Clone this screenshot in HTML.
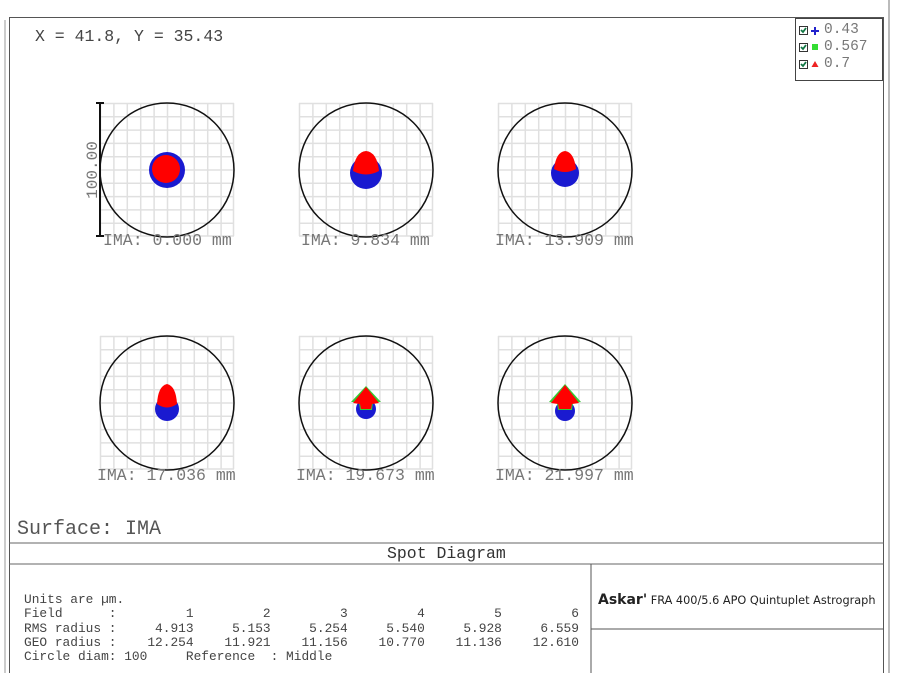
<!DOCTYPE html>
<html><head><style>
body{margin:0;background:#fff;width:900px;height:673px;overflow:hidden;position:relative;font-family:"Liberation Mono",monospace;color:#333}
.t{position:absolute;white-space:pre;}
</style></head><body>
<svg width="900" height="673" style="position:absolute;left:0;top:0">
<line x1="5" y1="20" x2="5" y2="673" stroke="#ccc" stroke-width="2"/>
<rect x="9.5" y="17.5" width="874" height="660" fill="none" stroke="#555"/>
<line x1="889" y1="0" x2="889" y2="673" stroke="#bbb" stroke-width="2"/>
<line x1="9" y1="543" x2="884" y2="543" stroke="#666"/>
<line x1="9" y1="564" x2="884" y2="564" stroke="#666"/>
<line x1="591" y1="564" x2="591" y2="673" stroke="#555"/>
<line x1="591" y1="629" x2="884" y2="629" stroke="#555"/>
<rect x="795.5" y="18.5" width="87" height="62" fill="#fff" stroke="#444"/>
<g id="c1">
<path d="M100 103.5H234M100 116.8H234M100 130.1H234M100 143.4H234M100 156.7H234M100 170H234M100 183.3H234M100 196.6H234M100 209.9H234M100 223.2H234M100 236H234M100.5 103V236M113.9 103V236M127.3 103V236M140.7 103V236M154.1 103V236M167.5 103V236M180.9 103V236M194.3 103V236M207.7 103V236M221.1 103V236M233.5 103V236" stroke="#e0e0e0" stroke-width="1.5" fill="none"/>
<circle cx="167" cy="170" r="67" fill="none" stroke="#111" stroke-width="1.5"/>
</g>
<use href="#c1" x="199" y="0"/><use href="#c1" x="398" y="0"/>
<use href="#c1" x="0" y="233"/><use href="#c1" x="199" y="233"/><use href="#c1" x="398" y="233"/>
<line x1="100" y1="103" x2="100" y2="236" stroke="#111" stroke-width="2"/>
<line x1="96" y1="103" x2="104" y2="103" stroke="#111" stroke-width="2"/>
<line x1="96" y1="236" x2="104" y2="236" stroke="#111" stroke-width="2"/>
<text x="97" y="170" transform="rotate(-90 97 170)" text-anchor="middle" font-family="Liberation Mono" font-size="16" fill="#777">100.00</text>
<circle cx="167" cy="170" r="18" fill="#1a1ad0"/><circle cx="166" cy="169" r="14" fill="#f00"/>
<circle cx="366" cy="173" r="16" fill="#1a1ad0"/><path d="M353 171 Q355 152 366 151 Q377 152 379 171 Q366 178 353 171Z" fill="#f00"/>
<circle cx="565" cy="173" r="14" fill="#1a1ad0"/><path d="M554 169 Q556 152 565 151 Q574 152 576 169 Q565 175 554 169Z" fill="#f00"/>
<circle cx="167" cy="409" r="12" fill="#1a1ad0"/><path d="M157 404 Q158 386 167 384 Q176 386 177 404 Q167 411 157 404Z" fill="#f00"/>
<circle cx="366" cy="409" r="10" fill="#1a1ad0"/><path d="M351 402 L366 386 L381 402 L373 402 L372 410 L360 410 L359 402Z" fill="#3c3"/><path d="M353 403 L366 387 L379 403 L372 404 L371 409 L361 409 L360 404Z" fill="#f00"/>
<circle cx="565" cy="411" r="10" fill="#1a1ad0"/><path d="M549 402 L565 384 L581 402 L573 403 L572 410 L558 410 L557 403Z" fill="#3c3"/><path d="M551 403 L565 385 L579 403 L572 404 L571 409 L559 409 L558 404Z" fill="#f00"/>
<g stroke="#333"><rect x="799.5" y="26.5" width="8" height="8" fill="#fff"/><rect x="799.5" y="43.5" width="8" height="8" fill="#fff"/><rect x="799.5" y="60.5" width="8" height="8" fill="#fff"/></g>
<path d="M801 30l2 2 3-4M801 47l2 2 3-4M801 64l2 2 3-4" stroke="#174" stroke-width="1.8" fill="none"/>
<path d="M815 27v8M811 31h8" stroke="#22c" stroke-width="2"/>
<rect x="812" y="44" width="6" height="6" fill="#3d3"/>
<path d="M815 61l3.5 6h-7z" fill="#e22"/>
</svg>
<div class="t" style="left:35px;top:27px;font-size:16.5px;color:#444">X = 41.8, Y = 35.43</div>
<div class="t" style="left:824px;top:22px;font-size:14.5px;color:#777;line-height:17px">0.43
0.567
0.7</div>
<div class="t" style="left:103px;top:231px;font-size:16.5px;color:#777">IMA: 0.000 mm</div>
<div class="t" style="left:301px;top:231px;font-size:16.5px;color:#777">IMA: 9.834 mm</div>
<div class="t" style="left:495px;top:231px;font-size:16.5px;color:#777">IMA: 13.909 mm</div>
<div class="t" style="left:97px;top:466px;font-size:16.5px;color:#777">IMA: 17.036 mm</div>
<div class="t" style="left:296px;top:466px;font-size:16.5px;color:#777">IMA: 19.673 mm</div>
<div class="t" style="left:495px;top:466px;font-size:16.5px;color:#777">IMA: 21.997 mm</div>
<div class="t" style="left:17px;top:518px;font-size:20px;color:#555">Surface: IMA</div>
<div class="t" style="left:387px;top:544px;font-size:16.5px;color:#333">Spot Diagram</div>
<div class="t" style="left:24px;top:593px;font-size:12.85px;line-height:14.3px;color:#444">Units are µm.
Field      :         1         2         3         4         5         6
RMS radius :     4.913     5.153     5.254     5.540     5.928     6.559
GEO radius :    12.254    11.921    11.156    10.770    11.136    12.610
Circle diam: 100     Reference  : Middle</div>
<div class="t" style="left:598px;top:592px;font-family:'DejaVu Sans',sans-serif;font-size:11.3px;color:#222"><b style="font-size:14px">Askar'</b> FRA 400/5.6 APO Quintuplet Astrograph</div>
</body></html>
